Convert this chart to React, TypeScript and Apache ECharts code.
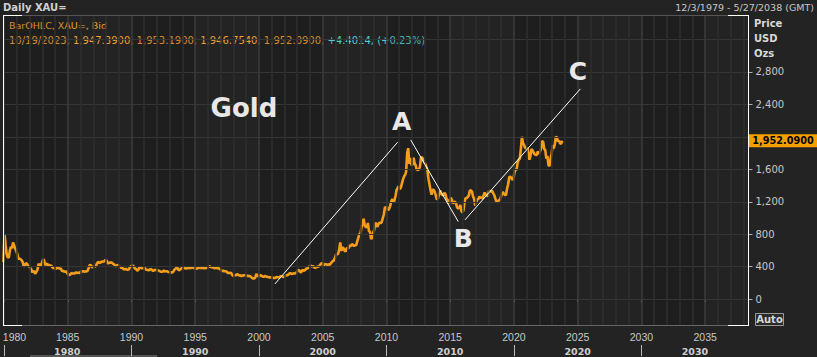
import React, { useEffect, useRef } from "react";
import * as echarts from "echarts";

// Monthly gold prices (USD/oz)
const gold1979 = [459];
const gold1980s = [
  800, 665, 554, 517, 513, 600, 644, 627, 700, 662, 623, 596,
  557, 500, 499, 495, 480, 461, 409, 410, 443, 437, 413, 410,
  384, 374, 330, 350, 333, 314, 340, 364, 436, 422, 414, 444,
  481, 491, 421, 432, 438, 413, 422, 416, 412, 394, 382, 388,
  370, 386, 394, 381, 377, 378, 348, 348, 341, 340, 341, 320,
  303, 299, 304, 325, 316, 317, 317, 330, 323, 326, 325, 322,
  345, 339, 346, 340, 342, 343, 348, 376, 418, 423, 398, 391,
  408, 401, 409, 438, 461, 450, 450, 461, 460, 465, 467, 486,
  477, 442, 444, 452, 451, 452, 437, 432, 413, 406, 420, 418,
  404, 388, 390, 384, 371, 367, 375, 365, 362, 367, 394, 409,
];
const gold1990s = [
  410, 417, 393, 374, 369, 352, 362, 395, 389, 381, 381, 378,
  384, 364, 363, 358, 357, 367, 368, 356, 349, 359, 360, 361,
  354, 354, 345, 339, 337, 341, 353, 343, 345, 344, 335, 334,
  329, 330, 330, 342, 367, 372, 392, 379, 355, 364, 374, 383,
  387, 382, 384, 378, 381, 386, 385, 381, 392, 390, 384, 380,
  379, 377, 382, 391, 385, 387, 386, 383, 383, 383, 386, 387,
  400, 405, 396, 393, 392, 385, 383, 387, 383, 381, 378, 369,
  355, 346, 352, 344, 344, 341, 324, 324, 323, 325, 306, 289,
  289, 297, 296, 308, 299, 292, 293, 284, 289, 296, 294, 291,
  287, 287, 286, 282, 277, 261, 256, 257, 265, 311, 293, 283,
];
const gold2000s = [
  284, 300, 286, 280, 275, 285, 282, 275, 273, 270, 266, 272,
  266, 262, 263, 261, 272, 270, 268, 273, 283, 283, 276, 275,
  282, 296, 294, 302, 314, 322, 314, 310, 319, 317, 319, 333,
  356, 359, 340, 328, 355, 356, 351, 360, 379, 379, 389, 407,
  414, 405, 406, 404, 384, 392, 398, 400, 406, 420, 439, 442,
  424, 423, 434, 429, 422, 431, 424, 438, 456, 470, 476, 510,
  549, 555, 557, 610, 700, 596, 633, 632, 598, 586, 627, 629,
  631, 665, 655, 679, 667, 655, 665, 665, 712, 754, 806, 803,
  889, 922, 990, 909, 888, 889, 939, 839, 829, 740, 760, 816,
  858, 943, 924, 890, 928, 945, 934, 949, 996, 1043, 1127, 1134,
];
const gold2010s = [
  1118, 1095, 1113, 1148, 1205, 1232, 1193, 1215, 1271, 1343, 1370, 1391,
  1356, 1372, 1424, 1473, 1510, 1529, 1572, 1800, 1860, 1665, 1739, 1652,
  1656, 1743, 1675, 1649, 1591, 1598, 1594, 1630, 1745, 1747, 1721, 1688,
  1671, 1627, 1593, 1485, 1414, 1343, 1286, 1347, 1349, 1316, 1275, 1225,
  1244, 1300, 1336, 1299, 1287, 1279, 1311, 1296, 1239, 1222, 1176, 1202,
  1251, 1227, 1179, 1198, 1199, 1181, 1131, 1117, 1125, 1159, 1086, 1068,
  1097, 1200, 1246, 1242, 1260, 1276, 1337, 1341, 1326, 1266, 1236, 1152,
  1192, 1234, 1231, 1266, 1246, 1260, 1236, 1283, 1314, 1280, 1282, 1265,
  1331, 1331, 1325, 1335, 1303, 1282, 1238, 1202, 1198, 1215, 1221, 1250,
  1291, 1320, 1300, 1285, 1284, 1360, 1413, 1500, 1510, 1495, 1471, 1480,
];
const gold2020s = [
  1560, 1597, 1592, 1683, 1716, 1732, 1846, 2000, 1921, 1900, 1866, 1858,
  1867, 1808, 1718, 1760, 1850, 1834, 1807, 1785, 1776, 1777, 1821, 1790,
  1817, 1856, 1950, 1937, 1849, 1837, 1732, 1764, 1650, 1640, 1726, 1798,
  1898, 1855, 1912, 2000, 1992, 1942, 1951, 1918, 1916, 1952,
];
const firstMonthYear = 1979; // December 1979
const firstMonthIndex = 11;

const yearTicks = [1980, 1985, 1990, 1995, 2000, 2005, 2010, 2015, 2020, 2025, 2030, 2035];
const decadeTicks = [1980, 1990, 2000, 2010, 2020, 2030];
const decadeLabels = ["1980", "1990", "2000", "2010", "2020", "2030"];
const decadeLabelPos = [1984.96, 1995, 2005, 2015, 2025, 2034.2];
const priceTicks = [0, 400, 800, 1200, 1600, 2000, 2400, 2800];
const priceLabels = [0, 400, 800, 1200, 1600, 2400, 2800]; // 2,000 is hidden under the last-price tag
const priceGrid = [0, 400, 800, 1200, 1600, 2000, 2400, 2800, 3200];
const darkBands = [[1980, 1985], [1990, 1995], [2000, 2005], [2010, 2015], [2020, 2025], [2030, 2035]];

const xMin = 1979.92; // 12/3/1979
const xMax = 2038.4; // 5/27/2038
const lastPrice = 1952.09;

// Annotation trend lines [year, price]
const trendLines = [
  [[2001.25, 188], [2010.88, 1934]],
  [[2011.9, 1962], [2015.63, 956]],
  [[2016.16, 977], [2025.21, 2590]],
];
const annotations = [
  { name: "Gold", coord: [1998.82, 2350], size: 26 },
  { name: "A", coord: [2011.19, 2188], size: 25 },
  { name: "B", coord: [2016.02, 751], size: 25 },
  { name: "C", coord: [2025.02, 2800], size: 25 },
];

const FONT = "Liberation Sans";
const DV = "DejaVu Sans";
const ORANGE = "#f39d1a";
const TXT_ORANGE = "#f0a035";

export default function App() {
  const ref = useRef<HTMLDivElement>(null);
  useEffect(() => {
    if (!ref.current) return;
    const chart = echarts.init(ref.current, null, { renderer: "svg" });
    const monthly = [...gold1979, ...gold1980s, ...gold1990s, ...gold2000s, ...gold2010s, ...gold2020s];
    const goldData = monthly.map((v, i) => [firstMonthYear + (firstMonthIndex + i + 0.5) / 12, v]);
    const years: number[] = [];
    for (let y = 1980; y <= 2038; y++) years.push(y);

    const gridLines = [
      ...priceGrid.map((v) => ({ yAxis: v, lineStyle: { color: "#363636", width: 1, type: "solid" } })),
      ...years.map((y) => ({
        xAxis: y,
        lineStyle: { color: y % 5 === 0 ? "#3c3c3c" : "#2f2f2f", width: 1.5, type: "solid" },
      })),
    ];

    const option: any = {
      animation: false,
      backgroundColor: "#232323",
      grid: {
        left: 3,
        top: 15,
        right: 68.5,
        bottom: 31,
        containLabel: false,
        outerBoundsMode: "none",
      },
      xAxis: [
        {
          type: "value",
          min: xMin,
          max: xMax,
          position: "bottom",
          axisLine: { show: false },
          axisTick: { show: true, customValues: yearTicks, length: 3, lineStyle: { color: "#aaa" } },
          axisLabel: {
            customValues: yearTicks,
            color: "#c8c8c8",
            fontSize: 10.5,
            fontFamily: FONT,
            margin: 5,
            formatter: (v: number) => (Math.round(v) === 1980 ? "{f|1980}" : String(Math.round(v))),
            rich: {
              f: { padding: [0, 0, 0, 21], color: "#c8c8c8", fontSize: 10.5, fontFamily: FONT },
            },
          },
          splitLine: { show: false },
        },
        {
          type: "value",
          min: xMin,
          max: xMax,
          position: "bottom",
          offset: 19,
          axisLine: { show: false },
          axisTick: { show: true, customValues: decadeTicks, length: 11, lineStyle: { color: "#bbb" } },
          axisLabel: {
            customValues: decadeLabelPos,
            color: "#d0d0d0",
            fontSize: 9.5,
            fontWeight: "bold",
            fontFamily: DV,
            margin: 1,
            formatter: (v: number) => {
              const i = decadeLabelPos.findIndex((p) => Math.abs(p - v) < 0.01);
              return i >= 0 ? decadeLabels[i] : "";
            },
          },
          splitLine: { show: false },
        },
      ],
      yAxis: {
        type: "value",
        position: "right",
        min: -330,
        max: 3500,
        axisLine: { show: false },
        axisTick: { show: true, customValues: priceTicks, length: 4, lineStyle: { color: "#aaa" } },
        axisLabel: {
          customValues: priceLabels,
          color: "#c8c8c8",
          fontSize: 10,
          fontFamily: DV,
          margin: 7,
          formatter: (v: number) => v.toLocaleString("en-US"),
        },
        splitLine: { show: false },
      },
      series: [
        {
          type: "line",
          name: "grid",
          data: [],
          z: 1,
          silent: true,
          markArea: {
            silent: true,
            itemStyle: { color: "rgba(0,0,0,0.12)" },
            data: darkBands.map((b) => [{ xAxis: b[0] }, { xAxis: b[1] }]),
          },
          markLine: {
            silent: true,
            symbol: ["none", "none"],
            label: { show: false },
            data: gridLines,
          },
        },
        {
          type: "line",
          name: "XAU",
          data: goldData,
          z: 3,
          showSymbol: false,
          lineStyle: { color: ORANGE, width: 2.6 },
          itemStyle: { color: ORANGE },
          markPoint: {
            silent: true,
            data: [
              {
                coord: [xMax, lastPrice],
                symbol: "rect",
                symbolSize: [69, 13],
                symbolOffset: [34.5, 0],
                itemStyle: { color: "#f5a000" },
                label: {
                  show: true,
                  position: "inside",
                  formatter: "1,952.0900",
                  color: "#000",
                  fontWeight: "bold",
                  fontSize: 9.7,
                  fontFamily: DV,
                },
              },
            ],
          },
        },
        {
          type: "line",
          name: "annotations",
          data: [],
          z: 4,
          silent: true,
          markLine: {
            silent: true,
            symbol: ["none", "none"],
            label: { show: false },
            lineStyle: { color: "#ffffff", width: 1, type: "solid" },
            data: trendLines.map((l) => [{ coord: l[0] }, { coord: l[1] }]),
          },
          markPoint: {
            silent: true,
            symbol: "rect",
            symbolSize: 1,
            itemStyle: { color: "rgba(0,0,0,0)" },
            data: annotations.map((a) => ({
              coord: a.coord,
              label: {
                show: true,
                position: "inside",
                formatter: a.name,
                color: "#e8e8e8",
                fontSize: a.size,
                fontWeight: "bold",
                fontFamily: DV,
              },
            })),
          },
        },
      ],
      graphic: [
        // frame
        { type: "line", shape: { x1: 22, y1: 15.5, x2: 728, y2: 15.5 }, style: { stroke: "#555", lineWidth: 1 }, z: 10 },
        { type: "line", shape: { x1: 22, y1: 325.5, x2: 728, y2: 325.5 }, style: { stroke: "#666", lineWidth: 1 }, z: 10 },
        { type: "line", shape: { x1: 3, y1: 15.5, x2: 22, y2: 15.5 }, style: { stroke: "#fff", lineWidth: 1 }, z: 10 },
        { type: "line", shape: { x1: 728, y1: 15.5, x2: 749, y2: 15.5 }, style: { stroke: "#fff", lineWidth: 1 }, z: 10 },
        { type: "line", shape: { x1: 3, y1: 325.5, x2: 22, y2: 325.5 }, style: { stroke: "#fff", lineWidth: 1 }, z: 10 },
        { type: "line", shape: { x1: 728, y1: 325.5, x2: 749, y2: 325.5 }, style: { stroke: "#fff", lineWidth: 1 }, z: 10 },
        { type: "line", shape: { x1: 3.5, y1: 15, x2: 3.5, y2: 326 }, style: { stroke: "#fff", lineWidth: 1 }, z: 10 },
        { type: "line", shape: { x1: 748.5, y1: 15, x2: 748.5, y2: 326 }, style: { stroke: "#fff", lineWidth: 1 }, z: 10 },
        // header
        {
          type: "text",
          x: 3,
          y: 2,
          style: { text: "Daily XAU=", fill: "#d0d0d0", fontSize: 10, fontWeight: "bold", fontFamily: DV },
        },
        {
          type: "text",
          x: 814,
          y: 2,
          style: { text: "12/3/1979 - 5/27/2038 (GMT)", fill: "#c8c8c8", fontSize: 9.5, fontFamily: DV, align: "right" },
        },
        {
          type: "text",
          x: 9,
          y: 20,
          style: { text: "BarOHLC, XAU=, Bid", fill: TXT_ORANGE, fontSize: 9.5, fontFamily: DV },
        },
        {
          type: "text",
          x: 9,
          y: 35,
          style: {
            text: "{o|10/19/2023, 1,947.3900, 1,953.1900, 1,946.7540, 1,952.0900, }{c|+4.4014, (+0.23%)}",
            fontSize: 10,
            fontFamily: DV,
            rich: {
              o: { fill: TXT_ORANGE, fontSize: 10, fontFamily: DV },
              c: { fill: "#4ccfd6", fontSize: 10, fontFamily: DV },
            },
          },
        },
        {
          type: "text",
          x: 754,
          y: 16,
          style: {
            text: "Price\nUSD\nOzs",
            fill: "#d8d8d8",
            fontSize: 10,
            fontWeight: "bold",
            fontFamily: DV,
            lineHeight: 15,
          },
        },
        // Auto button
        {
          type: "rect",
          shape: { x: 755.5, y: 313.5, width: 28, height: 12 },
          style: { fill: "#2a2a2a", stroke: "#999", lineWidth: 1 },
        },
        {
          type: "text",
          x: 769.5,
          y: 314.5,
          style: { text: "Auto", fill: "#d8d8d8", fontSize: 10, fontWeight: "bold", fontFamily: DV, align: "center" },
        },
        // scroll bar
        { type: "rect", shape: { x: 30, y: 355, width: 127, height: 2 }, style: { fill: "#555" } },
      ],
    };
    chart.setOption(option);
    return () => chart.dispose();
  }, []);
  return (
    <div
      ref={ref}
      style={{ position: "fixed", left: 0, top: 0, width: 817, height: 357 }}
    />
  );
}
